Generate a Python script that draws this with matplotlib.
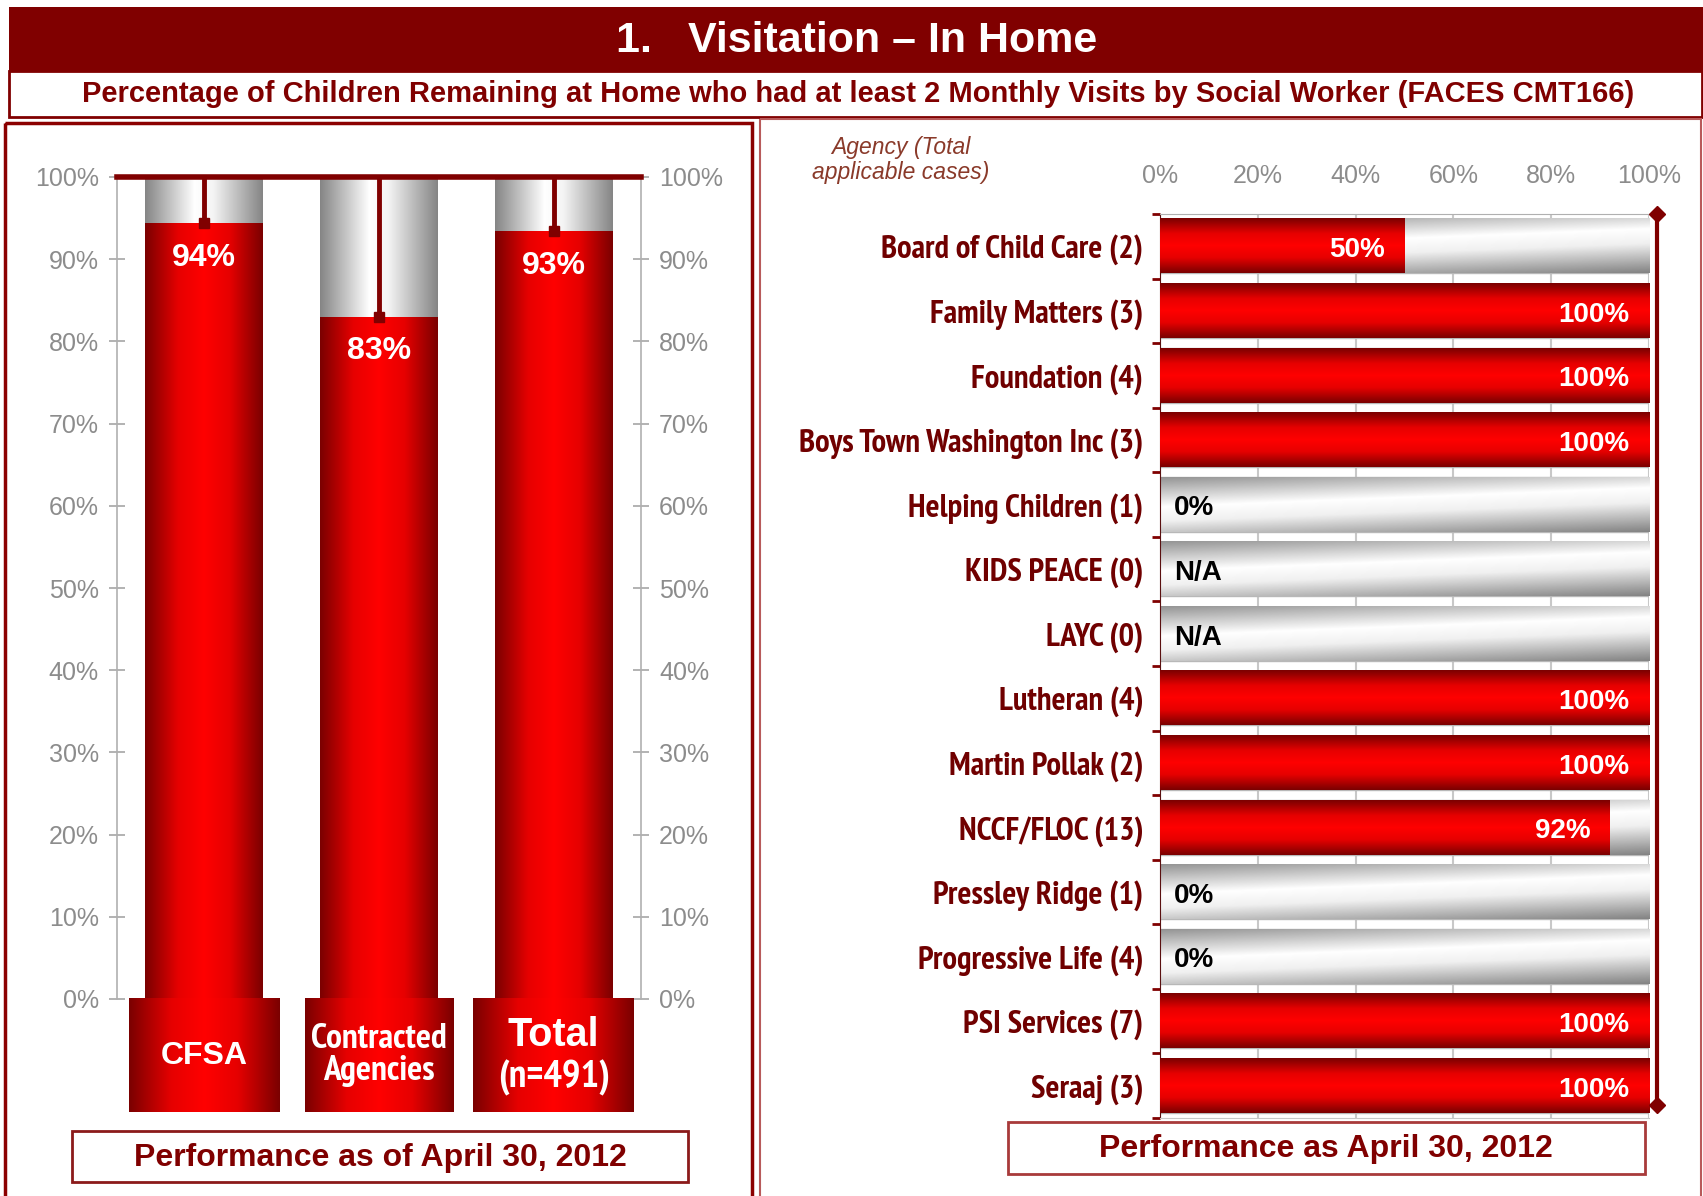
import numpy as np
import matplotlib
matplotlib.use('Agg')
import matplotlib.pyplot as plt
from matplotlib import font_manager as fm
from matplotlib.colors import LinearSegmentedColormap
from matplotlib.patches import Rectangle

# ---- data ----
groups = ['CFSA', 'Contracted\nAgencies', 'Total\n(n=491)']
group_pct = [0.944, 0.83, 0.934]

agencies = ['Board of Child Care (2)', 'Family Matters (3)', 'Foundation (4)',
            'Boys Town Washington Inc (3)', 'Helping Children (1)', 'KIDS PEACE (0)',
            'LAYC (0)', 'Lutheran (4)', 'Martin Pollak (2)', 'NCCF/FLOC (13)',
            'Pressley Ridge (1)', 'Progressive Life (4)', 'PSI Services (7)', 'Seraaj (3)']
agency_pct = [0.50, 1.00, 1.00, 1.00, 0.0, np.nan, np.nan, 1.00, 1.00, 0.92,
              0.0, 0.0, 1.00, 1.00]

MAROON = '#800000'
SANS = ['Liberation Sans', 'DejaVu Sans']
# a narrow face like Arial Narrow, whichever is installed
have = {f.name for f in fm.fontManager.ttflist}
narrow_pick = [n for n in ['Liberation Sans Narrow', 'Arial Narrow', 'PT Sans Narrow',
                           'Roboto Condensed', 'Barlow Semi Condensed'] if n in have]
NARROW = narrow_pick[:1] + SANS

red_cm = LinearSegmentedColormap.from_list('red', [(0, '#7a0000'), (0.28, '#e60000'), (0.5, '#ff0000'),
                                                   (0.72, '#e60000'), (1, '#7a0000')])
gray_cm = LinearSegmentedColormap.from_list('gray', [(0, '#858585'), (0.42, '#ffffff'),
                                                     (0.58, '#f4f4f4'), (1, '#858585')])
diag_cm = LinearSegmentedColormap.from_list('diag', [(0, '#959595'), (0.4, '#ffffff'),
                                                     (0.6, '#f0f0f0'), (1, '#848484')])

W, H = 1703, 1196
fig = plt.figure(figsize=(W / 100, H / 100), dpi=100)


def frac(x0, y0, x1, y1):
    return [x0 / W, 1 - y1 / H, (x1 - x0) / W, (y1 - y0) / H]


def paint(ax, patch, img, cmap, clip_on=True, flip=False):
    x, y = patch.get_x(), patch.get_y()
    w, h = patch.get_width(), patch.get_height()
    if not (w > 0 and h != 0):
        return
    y0, y1 = min(y, y + h), max(y, y + h)
    ext = [x, x + w, y1, y0] if flip else [x, x + w, y0, y1]
    im = ax.imshow(img, cmap=cmap, extent=ext, aspect='auto', origin='upper',
                   interpolation='bilinear', zorder=patch.get_zorder(), vmin=0, vmax=1)
    im.set_clip_on(clip_on)
    patch.set_facecolor('none')


hgrad = np.linspace(0, 1, 256)[None, :]
vgrad = np.linspace(0, 1, 256)[:, None]
xx, yy = np.meshgrid(np.linspace(0, 1, 200), np.linspace(0, 1, 60))
dgrad = (yy + 0.35 * xx) / 1.35

# ---- background frame ----
bg = fig.add_axes([0, 0, 1, 1])
bg.set_xlim(0, W)
bg.set_ylim(H, 0)
bg.axis('off')
bg.add_patch(Rectangle((9, 7), W - 9, 64, facecolor=MAROON, edgecolor='none'))
bg.add_patch(Rectangle((9, 71), W - 10, 46, facecolor='white', edgecolor=MAROON, lw=2))
bg.text(857, 41, '1.   Visitation \u2013 In Home', color='white', fontsize=31,
        fontweight='bold', family=SANS, ha='center', va='center')
bg.text(858, 94, 'Percentage of Children Remaining at Home who had at least 2 Monthly Visits '
        'by Social Worker (FACES CMT166)', color=MAROON, fontsize=21, fontweight='bold',
        family=SANS, ha='center', va='center')
bg.add_patch(Rectangle((5, 123), 747, 1090, facecolor='none', edgecolor='#8b0000', lw=2.5))
bg.add_patch(Rectangle((760, 119), 941, 1090, facecolor='none', edgecolor='#b85a5a', lw=1.5))

bg.add_patch(Rectangle((72, 1131), 616, 51, facecolor='white', edgecolor='#8b1a1a', lw=2))
bg.text(380, 1158, 'Performance as of April 30, 2012', color=MAROON, fontsize=23,
        fontweight='bold', family=SANS, ha='center', va='center')
bg.add_patch(Rectangle((1008, 1122), 637, 52, facecolor='white', edgecolor='#a83a3a', lw=2))
bg.text(1326, 1149, 'Performance as April 30, 2012', color=MAROON, fontsize=23,
        fontweight='bold', family=SANS, ha='center', va='center')
bg.text(901, 160, 'Agency (Total\napplicable cases)', color='#8a3a2a', fontsize=16.5,
        style='italic', family=SANS, ha='center', va='center', linespacing=1.1)

# ---- left chart ----
axL = fig.add_axes(frac(117, 177, 641, 999))
x = np.arange(len(groups))
bw = 0.675
red_bars = axL.bar(x, group_pct, width=bw, zorder=2)
gray_bars = axL.bar(x, [1 - p for p in group_pct], bottom=group_pct, width=bw, zorder=2)
for p in red_bars:
    paint(axL, p, hgrad, red_cm)
for p in gray_bars:
    paint(axL, p, hgrad, gray_cm)

axL.axhline(1.0, color=MAROON, lw=4, zorder=5, clip_on=False)
axL.vlines(x, group_pct, 1.0, color=MAROON, lw=3.5, zorder=5)
axL.plot(x, group_pct, 's', color=MAROON, ms=7, zorder=6)
for i, p in enumerate(group_pct):
    axL.text(i, p - 0.042, f'{p:.0%}', color='white', fontsize=23, fontweight='bold',
             family=SANS, ha='center', va='center', zorder=7)

box_w = [0.86, 0.85, 0.92]
boxes = axL.bar(x, 0.1375, bottom=-0.1375, width=box_w, zorder=3, clip_on=False)
for p in boxes:
    paint(axL, p, hgrad, red_cm, clip_on=False)
axL.text(0, -0.069, groups[0], color='white', fontsize=23, fontweight='bold',
         family=SANS, ha='center', va='center', zorder=7)
axL.text(1, -0.068, groups[1], color='white', fontsize=25.5, fontweight='bold',
         family=NARROW, ha='center', va='center', zorder=7, linespacing=1.0)
tot_top, tot_bot = groups[2].split('\n')
axL.text(2, -0.044, tot_top, color='white', fontsize=28.5, fontweight='bold',
         family=SANS, ha='center', va='center', zorder=7)
axL.text(2, -0.096, tot_bot, color='white', fontsize=28, fontweight='bold',
         family=NARROW, ha='center', va='center', zorder=7)

axL.set_xlim(-0.5, 2.5)
axL.set_ylim(0, 1)
axL.set_xticks([])
axL.set_yticks(np.arange(0, 1.01, 0.1))
axL.set_yticklabels([f'{v:.0f}%' for v in np.arange(0, 101, 10)])
axL.yaxis.set_ticks_position('both')
axL.tick_params(axis='y', labelright=True, direction='inout', length=12, width=1.2,
                color='#a6a6a6', labelcolor='#8c8c8c', labelsize=18, pad=7)
for lab in axL.get_yticklabels():
    lab.set_family(SANS)
for s in ['top', 'bottom']:
    axL.spines[s].set_visible(False)
for s in ['left', 'right']:
    axL.spines[s].set_color('#b0b0b0')
    axL.spines[s].set_linewidth(1.2)
axL.patch.set_alpha(0)

# ---- right chart ----
axR = fig.add_axes(frac(1160, 214, 1649, 1118))
y = np.arange(len(agencies))
bh = 0.84
back = axR.barh(y, [1.0] * len(agencies), height=bh, zorder=2, edgecolor='#b8b8b8', lw=1)
vals = [0 if np.isnan(v) else v for v in agency_pct]
fore = axR.barh(y, vals, height=bh, zorder=3)
axR.set_xlim(0, 1)
axR.set_ylim(13.5, -0.5)
for p in back:
    paint(axR, p, dgrad, diag_cm, flip=True)
for p in fore:
    paint(axR, p, vgrad, red_cm, flip=True)

for i, v in enumerate(agency_pct):
    if np.isnan(v):
        axR.text(0.028, i + 0.06, 'N/A', color='black', fontsize=20, fontweight='bold',
                 family=SANS, ha='left', va='center', zorder=7)
    elif v == 0:
        axR.text(0.028, i + 0.06, '0%', color='black', fontsize=20, fontweight='bold',
                 family=SANS, ha='left', va='center', zorder=7)
    else:
        axR.text(v - 0.04, i + 0.06, f'{v:.0%}', color='white', fontsize=20, fontweight='bold',
                 family=SANS, ha='right', va='center', zorder=7)

axR.plot([1.016, 1.016], [-0.5, 13.3], color=MAROON, lw=3, marker='D', ms=8,
         zorder=8, clip_on=False)

axR.set_xlim(0, 1)
axR.set_ylim(13.5, -0.5)
axR.xaxis.tick_top()
axR.set_xticks(np.arange(0, 1.01, 0.2))
axR.set_xticklabels([f'{v:.0f}%' for v in np.arange(0, 101, 20)])
axR.tick_params(axis='x', length=0, pad=19, labelsize=18, labelcolor='#8c8c8c')
for lab in axR.get_xticklabels():
    lab.set_family(SANS)
axR.set_yticks(y)
axR.set_yticklabels(agencies)
axR.set_yticks(np.arange(-0.5, 13.6, 1), minor=True)
axR.tick_params(axis='y', which='major', length=0, pad=12, labelsize=23.5, labelcolor='#700000')
axR.tick_params(axis='y', which='minor', length=6, width=2, color=MAROON)
for lab in axR.get_yticklabels():
    lab.set_family(NARROW)
    lab.set_fontweight('bold')
axR.grid(axis='x', color='#c8c8c8', lw=1.5, zorder=0)
axR.set_axisbelow(True)
axR.spines['top'].set_color('#b0b0b0')
axR.spines['left'].set_color('#5a1010')
axR.spines['right'].set_visible(False)
axR.spines['bottom'].set_color('#c8c8c8')
axR.patch.set_alpha(0)

fig.savefig('out.png', dpi=100)
